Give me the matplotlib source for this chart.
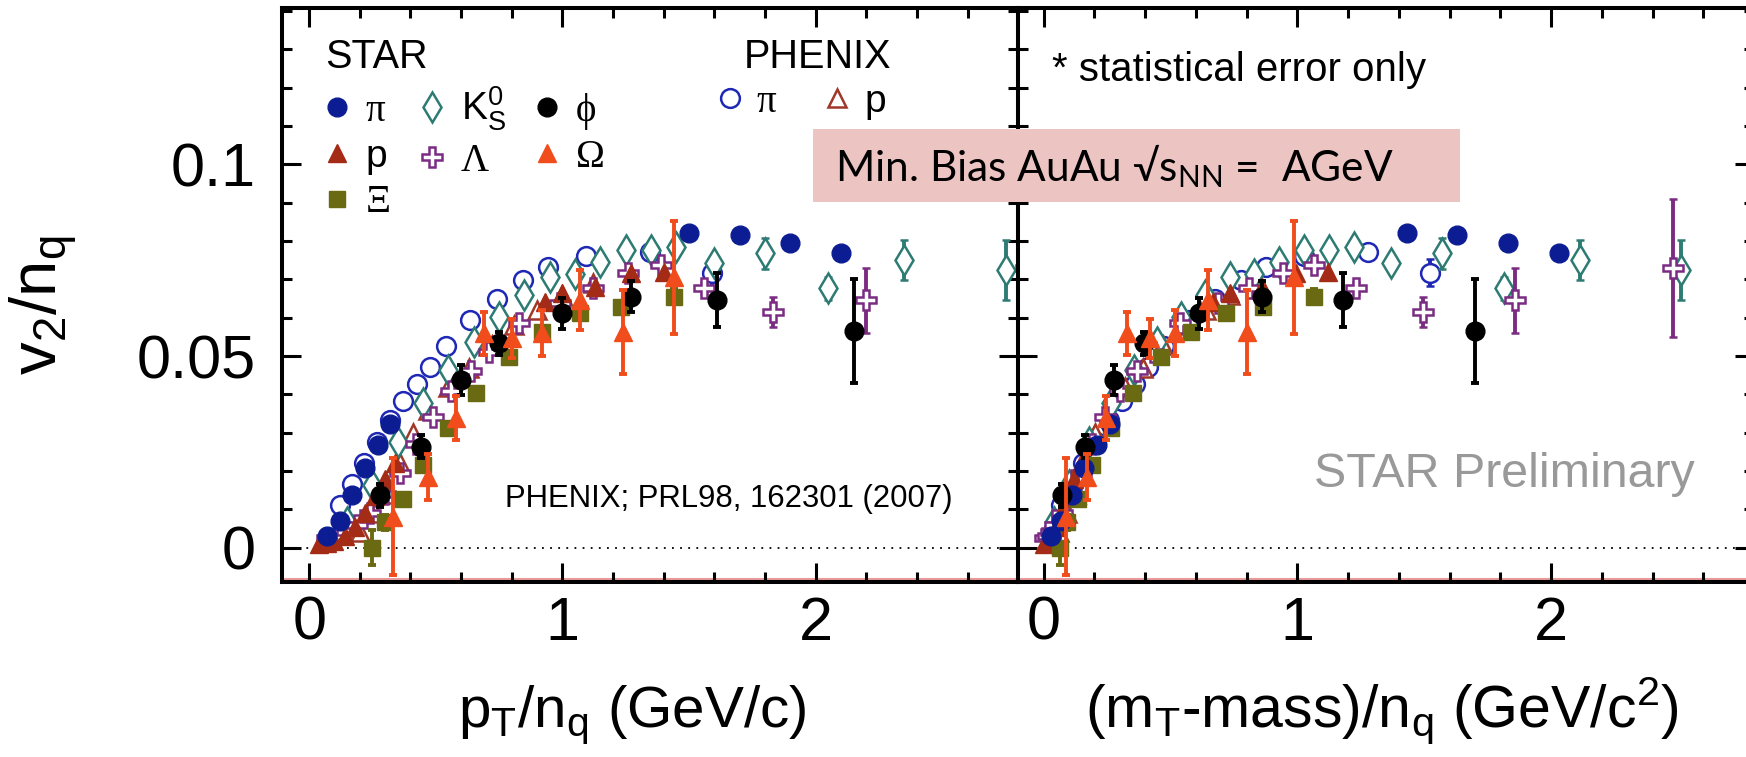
#v2/nq vs pT/nq y vs (mT-m)/nq, STAR + PHENIX
import matplotlib
matplotlib.use("Agg")
import matplotlib.pyplot as plt
from matplotlib.lines import Line2D
from matplotlib.patches import Rectangle
from matplotlib.ticker import MultipleLocator, FuncFormatter

plt.rcParams['font.family'] = ['Liberation Sans', 'DejaVu Sans']

#Datos
# STAR pi
pi_pt = [0.07, 0.12, 0.17, 0.22, 0.27, 0.32, 1.50, 1.70, 1.90, 2.10]
pi_mt = [0.03, 0.07, 0.11, 0.16, 0.21, 0.26, 1.43, 1.63, 1.83, 2.03]
pi_v2 = [0.003, 0.007, 0.0138, 0.0207, 0.0268, 0.0322, 0.0820, 0.0815, 0.0795, 0.0768]
# PHENIX pi
phx_pi_pt = [0.12, 0.17, 0.215, 0.268, 0.32, 0.37, 0.424, 0.476, 0.54, 0.635, 0.74, 0.845, 0.945, 1.095, 1.345, 1.59]
phx_pi_mt = [0.069, 0.114, 0.156, 0.207, 0.258, 0.307, 0.36, 0.411, 0.475, 0.569, 0.674, 0.778, 0.878, 1.027, 1.277, 1.522]
phx_pi_v2 = [0.0112, 0.0166, 0.022, 0.0276, 0.0333, 0.0383, 0.0427, 0.0472, 0.0527, 0.0594, 0.065, 0.0698, 0.0733, 0.0761, 0.0772, 0.0717]
phx_pi_err = [0, 0, 0, 0, 0, 0, 0, 0, 0, 0, 0, 0, 0, 0, 0.001, 0.0035]
# STAR K0s
k0s_pt = [0.15, 0.25, 0.35, 0.45, 0.55, 0.65, 0.75, 0.85, 0.95, 1.05, 1.15, 1.25, 1.35, 1.45, 1.60, 1.80, 2.05, 2.35, 2.75]
k0s_mt = [0.04, 0.10, 0.18, 0.265, 0.355, 0.447, 0.541, 0.637, 0.733, 0.83, 0.928, 1.026, 1.124, 1.222, 1.37, 1.568, 1.816, 2.114, 2.512]
k0s_v2 = [0.0068, 0.0164, 0.0276, 0.0377, 0.0463, 0.0537, 0.0602, 0.0659, 0.0707, 0.0715, 0.0746, 0.0776, 0.0776, 0.0785, 0.0742, 0.0768, 0.0677, 0.075, 0.0724]
k0s_err = [0, 0, 0, 0, 0, 0, 0, 0, 0, 0, 0, 0, 0, 0, 0.001, 0.004, 0.003, 0.0052, 0.0078]
# STAR phi
phi_pt = [0.28, 0.44, 0.60, 0.75, 1.00, 1.27, 1.61, 2.15]
phi_mt = [0.072, 0.164, 0.278, 0.397, 0.613, 0.859, 1.179, 1.70]
phi_v2 = [0.0137, 0.0263, 0.0437, 0.0533, 0.0611, 0.0655, 0.0646, 0.0565]
phi_err = [0.003, 0.003, 0.004, 0.003, 0.004, 0.004, 0.007, 0.0135]
# STAR p
p_pt = [0.04, 0.07, 0.10, 0.14, 0.18, 0.22, 0.26, 0.30, 0.34, 0.93, 1.00, 1.13, 1.27, 1.40]
p_mt = [0.003, 0.008, 0.016, 0.03, 0.048, 0.07, 0.094, 0.121, 0.149, 0.669, 0.735, 0.86, 0.995, 1.122]
p_v2 = [0.001, 0.0012, 0.0018, 0.003, 0.0055, 0.009, 0.0135, 0.018, 0.022, 0.064, 0.0664, 0.068, 0.0716, 0.072]
# PHENIX p
phx_p_pt = [0.20, 0.26, 0.31, 0.36, 0.41, 0.47, 0.55, 0.63, 0.72, 0.81, 0.90, 1.00, 1.12]
phx_p_mt = [0.059, 0.094, 0.128, 0.164, 0.203, 0.252, 0.32, 0.391, 0.472, 0.556, 0.64, 0.735, 0.85]
phx_p_v2 = [0.004, 0.009, 0.014, 0.022, 0.030, 0.036, 0.042, 0.047, 0.053, 0.058, 0.062, 0.066, 0.069]
# STAR Lambda
lam_pt = [0.07, 0.11, 0.15, 0.19, 0.24, 0.30, 0.36, 0.42, 0.49, 0.56, 0.64, 0.71, 0.83, 0.99, 1.12, 1.26, 1.39, 1.56, 1.83, 2.20, 2.83]
lam_mt = [0.007, 0.016, 0.029, 0.046, 0.071, 0.106, 0.146, 0.189, 0.243, 0.30, 0.368, 0.43, 0.538, 0.686, 0.808, 0.942, 1.067, 1.232, 1.496, 1.859, 2.48]
lam_v2 = [0.0025, 0.003, 0.004, 0.006, 0.009, 0.014, 0.0195, 0.027, 0.034, 0.041, 0.046, 0.051, 0.0585, 0.0637, 0.0677, 0.0716, 0.0737, 0.0677, 0.0615, 0.0645, 0.0729]
lam_err = [0, 0, 0, 0, 0, 0, 0, 0, 0, 0, 0, 0, 0, 0, 0, 0, 0.001, 0.0015, 0.004, 0.0085, 0.018]
# STAR Omega
om_pt = [0.33, 0.47, 0.58, 0.69, 0.80, 0.92, 1.07, 1.24, 1.44]
om_mt = [0.09, 0.172, 0.247, 0.33, 0.418, 0.518, 0.649, 0.802, 0.987]
om_v2 = [0.0081, 0.0185, 0.0338, 0.0559, 0.0546, 0.0559, 0.0646, 0.0563, 0.0705]
om_err = [0.0153, 0.006, 0.0057, 0.0057, 0.005, 0.006, 0.0078, 0.011, 0.0148]
# STAR Xi
xi_pt = [0.25, 0.30, 0.37, 0.45, 0.55, 0.66, 0.79, 0.92, 1.07, 1.23, 1.44]
xi_mt = [0.066, 0.092, 0.135, 0.189, 0.264, 0.353, 0.464, 0.58, 0.717, 0.866, 1.065]
xi_v2 = [0.0, 0.0066, 0.0127, 0.0216, 0.0311, 0.0403, 0.0498, 0.0563, 0.0611, 0.0628, 0.0655]
xi_err = [0.0045, 0.002, 0.0015, 0.0015, 0.0015, 0.0015, 0.0015, 0.0015, 0.0015, 0.0015, 0.002]

#Colores
c_pi = '#0c1d94'
c_phxpi = '#1f28b4'
c_k0s = '#2d7b72'
c_p = '#a42b15'
c_phxp = '#a0382a'
c_lam = '#7b2c82'
c_om = '#f04c1c'
c_xi = '#6a6a12'

#Estilos de marcador para cada serie
series = [
    (phx_pi_pt, phx_pi_mt, phx_pi_v2, phx_pi_err, dict(fmt='o', ms=13.5, mfc='white', mec=c_phxpi, mew=1.8, ecolor=c_phxpi)),
    (phx_p_pt, phx_p_mt, phx_p_v2, None, dict(fmt='^', ms=13.5, mfc='white', mec=c_phxp, mew=1.8, ecolor=c_phxp)),
    (k0s_pt, k0s_mt, k0s_v2, k0s_err, dict(fmt='d', ms=15, mfc='white', mec=c_k0s, mew=1.8, ecolor=c_k0s)),
    (lam_pt, lam_mt, lam_v2, lam_err, dict(fmt='P', ms=14, mfc='white', mec=c_lam, mew=1.8, ecolor=c_lam)),
    (p_pt, p_mt, p_v2, None, dict(fmt='^', ms=13, color=c_p, ecolor=c_p)),
    (xi_pt, xi_mt, xi_v2, xi_err, dict(fmt='s', ms=12, color=c_xi, ecolor=c_xi)),
    (pi_pt, pi_mt, pi_v2, None, dict(fmt='o', ms=13.5, color=c_pi, ecolor=c_pi)),
    (phi_pt, phi_mt, phi_v2, phi_err, dict(fmt='o', ms=13.5, color='black', ecolor='black')),
    (om_pt, om_mt, om_v2, om_err, dict(fmt='^', ms=13, color=c_om, ecolor=c_om)),
]

fig = plt.figure(figsize=(17.46, 7.57), dpi=100)
ax1 = fig.add_axes([0.1617, 0.2312, 0.4215, 0.7583])
ax2 = fig.add_axes([0.5832, 0.2312, 0.4215, 0.7583])

for i, (xpt, xmt, v2, err, st) in enumerate(series):
    ax1.errorbar(xpt, v2, yerr=err, elinewidth=2.8, capsize=3, capthick=2.8, zorder=3 + i, **st)
    ax2.errorbar(xmt, v2, yerr=err, elinewidth=2.8, capsize=3, capthick=2.8, zorder=3 + i, **st)

for ax, xlo in ((ax1, -0.106), (ax2, -0.10)):
    ax.set_xlim(xlo, 2.80)
    ax.set_ylim(-0.00895, 0.1408)
    ax.xaxis.set_major_locator(MultipleLocator(1))
    ax.xaxis.set_minor_locator(MultipleLocator(0.2))
    ax.yaxis.set_major_locator(MultipleLocator(0.05))
    ax.yaxis.set_minor_locator(MultipleLocator(0.01))
    ax.tick_params(which='both', direction='in', top=True, right=True, width=2.2, labelsize=44)
    ax.tick_params(which='major', length=13.5)
    ax.tick_params(which='minor', length=7)
    ax.tick_params(axis='x', pad=10)
    ax.tick_params(axis='y', pad=19)
    ax.xaxis.set_major_formatter(FuncFormatter(lambda v, p: '%g' % v))
    ax.yaxis.set_major_formatter(FuncFormatter(lambda v, p: '%g' % round(v, 3)))
    for s in ax.spines.values():
        s.set_linewidth(2.9)
    ax.axhline(0, color='black', lw=1.3, ls=(0, (1, 3.5)), zorder=1)
    ax.plot([0, 1], [0.006, 0.006], transform=ax.transAxes, color='#e89a9a', lw=1.5, zorder=1)
ax2.tick_params(labelleft=False)

#Leyenda STAR
leg_prop = {'family': ['Liberation Sans', 'DejaVu Sans'], 'size': 28}
greek = ['Liberation Serif', 'DejaVu Serif']
ax1.text(0.058, 0.8955, 'STAR', transform=ax1.transAxes, fontsize=28.5, va='baseline')
star_handles = [
    Line2D([], [], ls='none', marker='o', ms=13.5, color=c_pi),
    Line2D([], [], ls='none', marker='^', ms=13, color=c_p),
    Line2D([], [], ls='none', marker='s', ms=12, color=c_xi),
    Line2D([], [], ls='none', marker='d', ms=15, mfc='white', mec=c_k0s, mew=1.8),
    Line2D([], [], ls='none', marker='P', ms=14, mfc='white', mec=c_lam, mew=1.8),
    Line2D([], [], ls='none', marker='o', ms=13.5, color='black'),
    Line2D([], [], ls='none', marker='^', ms=13, color=c_om),
]
star_labels = ['π', 'p', 'Ξ', r'K$\mathregular{^0_S}$', 'Λ', 'ϕ', 'Ω']
leg1 = ax1.legend(star_handles, star_labels, loc='upper left', bbox_to_anchor=(0.058, 0.866),
                  ncol=3, frameon=False, prop=leg_prop,
                  handlelength=0.6, handletextpad=0.45, columnspacing=0.75, labelspacing=0.24,
                  borderpad=0, borderaxespad=0)
for t in leg1.get_texts():
    if t.get_text() in ('π', 'Ξ', 'Λ', 'ϕ', 'Ω'):
        t.set_fontfamily(greek)
ax1.add_artist(leg1)

#Leyenda PHENIX
ax1.text(0.627, 0.8955, 'PHENIX', transform=ax1.transAxes, fontsize=28.5, va='baseline')
phx_handles = [
    Line2D([], [], ls='none', marker='o', ms=13.5, mfc='white', mec=c_phxpi, mew=1.8),
    Line2D([], [], ls='none', marker='^', ms=13.5, mfc='white', mec=c_phxp, mew=1.8),
]
leg2 = ax1.legend(phx_handles, ['π', 'p'], loc='upper left', bbox_to_anchor=(0.592, 0.868),
                  ncol=2, frameon=False, prop=leg_prop,
                  handlelength=0.6, handletextpad=0.4, columnspacing=1.25,
                  borderpad=0, borderaxespad=0)
leg2.get_texts()[0].set_fontfamily(greek)

#Textos
ax1.text(0.3026, 0.1307, 'PHENIX; PRL98, 162301 (2007)', transform=ax1.transAxes, fontsize=22.4, va='baseline')
ax2.text(0.0458, 0.873, '* statistical error only', transform=ax2.transAxes, fontsize=29, va='baseline')
ax2.text(0.4018, 0.1655, 'STAR Preliminary', transform=ax2.transAxes, fontsize=34.8, color='#999999', va='baseline')

#Ejes
fig.text(632 / 1746, 30 / 757, r'$\mathregular{p_T/n_q}$ (GeV/c)', ha='center', va='baseline', fontsize=42)
fig.text(1382 / 1746, 30 / 757, r'($\mathregular{m_T}$-mass)/$\mathregular{n_q}$ (GeV/c$\mathregular{^2}$)',
         ha='center', va='baseline', fontsize=42.5)
fig.text(44 / 1746, 452 / 757, r'$\mathregular{v_2/n_q}$', rotation=90, ha='center', va='center', fontsize=47)

#Recuadro rosa
fig.add_artist(Rectangle((813 / 1746, 555 / 757), 647 / 1746, 73 / 757, transform=fig.transFigure,
                         facecolor='#ecc5c3', edgecolor='none', zorder=20))
fig.text(835 / 1746, 576 / 757, r'Min. Bias AuAu √s$\mathregular{_{NN}}$ =  AGeV', fontsize=30.5,
         family=['Lato', 'DejaVu Sans'], va='baseline', zorder=21)

plt.savefig('out.png', dpi=100)
